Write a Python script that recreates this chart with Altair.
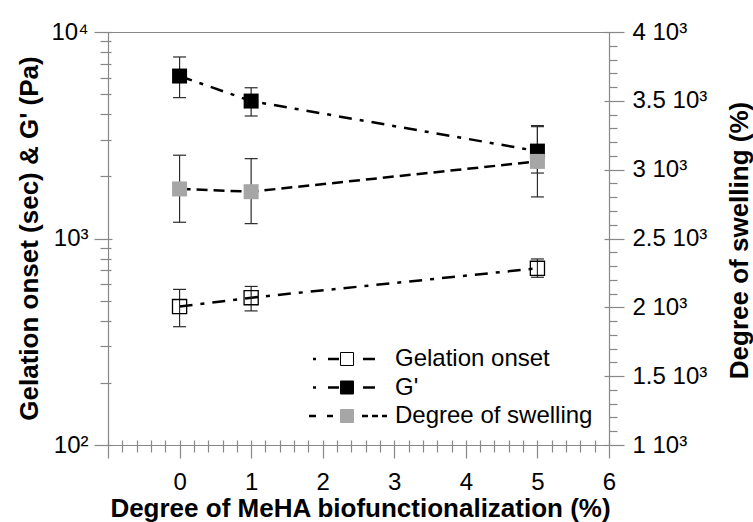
import altair as alt
import pandas as pd

# ---------------- data ----------------
x_vals = [0, 1, 5]
gel_mean = [468, 517, 717]
gel_lo = [374, 446, 649]
gel_hi = [567, 586, 796]
g_mean = [6120, 4630, 2650]
g_lo = [4810, 3920, 2075]
g_hi = [7570, 5370, 3480]
sw_mean = [2860, 2840, 3060]
sw_lo = [2618, 2608, 2802]
sw_hi = [3105, 3080, 3320]

series_names = ["Gelation onset", "G'", "Degree of swelling"]

x_major_ticks = [-1, 0, 1, 2, 3, 4, 5, 6]
x_minor_ticks = [round(-1 + 0.2 * i, 1) for i in range(36) if i % 5 != 0]
left_major_ticks = [100, 1000, 10000]
left_minor_ticks = [200, 300, 400, 500, 600, 700, 800, 900,
                    2000, 3000, 4000, 5000, 6000, 7000, 8000, 9000]
right_major_ticks = [1000, 1500, 2000, 2500, 3000, 3500, 4000]
right_minor_ticks = [v for v in range(1000, 4001, 100) if v % 500 != 0]

FONT = "Liberation Sans"
X_DOMAIN = [-1, 6]
L_DOMAIN = [100, 10000]
R_DOMAIN = [1000, 4000]
ERR_COLOR = "#2a2a2a"
GRAY = "#a6a6a6"

gel_df = pd.DataFrame({"x": x_vals, "m": gel_mean, "lo": gel_lo, "hi": gel_hi})
g_df = pd.DataFrame({"x": x_vals, "m": g_mean, "lo": g_lo, "hi": g_hi})
sw_df = pd.DataFrame({"x": x_vals, "m": sw_mean, "lo": sw_lo, "hi": sw_hi})
leg_df = pd.DataFrame({"s": series_names,
                       "s2": [n + " " for n in series_names],
                       "x": [0, 0, 0], "m": [1000, 1000, 1000]})

# ---------------- axes ----------------
AX_X_DOMAIN = alt.Axis(orient="bottom", domain=True, domainWidth=1.2, ticks=False, labels=False,
                       grid=False, title="Degree of MeHA biofunctionalization (%)",
                       titleFontSize=26, titleFontWeight="bold", titleX=252, titleY=71,
                       titleAlign="center", titleBaseline="alphabetic")
AX_X_MAJOR = alt.Axis(orient="bottom", values=x_major_ticks, offset=-5, tickSize=18, tickWidth=1.2,
                      domain=False, grid=False, title=None, labelFontSize=24, labelPadding=12,
                      labelFlush=False, labelOverlap=False,
                      labelExpr="datum.value < 0 ? '' : datum.label")
AX_X_MINOR = alt.Axis(orient="bottom", values=x_minor_ticks, offset=-5, tickSize=12, tickWidth=1.2,
                      domain=False, labels=False, grid=False, title=None)
AX_X_TOP = alt.Axis(orient="top", domain=True, domainWidth=1.2, ticks=False, labels=False,
                    grid=False, title=None)

AX_L_DOMAIN = alt.Axis(orient="left", domain=True, domainWidth=1.2, ticks=False, labels=False,
                       grid=False, title="Gelation onset (sec) & G' (Pa)",
                       titleFontSize=26, titleFontWeight="bold", titleAngle=270,
                       titleX=-71, titleY=206, titleAlign="center", titleBaseline="alphabetic")
AX_L_MAJOR = alt.Axis(orient="left", values=left_major_ticks, offset=-4, tickSize=18, tickWidth=1.2,
                      domain=False, grid=False, title=None, labelFontSize=24, labelPadding=6,
                      labelFlush=False, labelOverlap=False,
                      labelExpr="datum.value < 500 ? '10\u00b2' : datum.value < 5000 ? '10\u00b3' : '10\u2074'")
AX_L_MINOR = alt.Axis(orient="left", values=left_minor_ticks, offset=-3, tickSize=11, tickWidth=1.2,
                      domain=False, labels=False, grid=False, title=None)

AX_R_DOMAIN = alt.Axis(orient="right", domain=True, domainWidth=1.2, ticks=False, labels=False,
                       grid=False, title="Degree of swelling (%)",
                       titleFontSize=26, titleFontWeight="bold", titleAngle=270,
                       titleX=138, titleY=208, titleAlign="center", titleBaseline="alphabetic")
AX_R_MAJOR = alt.Axis(orient="right", values=right_major_ticks, offset=-5, tickSize=20, tickWidth=1.2,
                      domain=False, grid=False, title=None, labelFontSize=24, labelPadding=8,
                      labelFlush=False, labelOverlap=False,
                      labelExpr="datum.value / 1000 + ' 10\u00b3'")
AX_R_MINOR = alt.Axis(orient="right", values=right_minor_ticks, offset=0, tickSize=8, tickWidth=1.2,
                      domain=False, labels=False, grid=False, title=None)


def xs(axis=None):
    return alt.X("x:Q", scale=alt.Scale(domain=X_DOMAIN, nice=False, zero=False), axis=axis)


def yl(field, axis=None):
    return alt.Y(f"{field}:Q", scale=alt.Scale(type="log", domain=L_DOMAIN, nice=False), axis=axis)


def yr(field, axis=None):
    return alt.Y(f"{field}:Q", scale=alt.Scale(domain=R_DOMAIN, nice=False, zero=False), axis=axis)


DASHDOT = [13, 8, 4, 8]
DASH = [11, 6]

# ---------------- Gelation onset ----------------
gel_line = alt.Chart(gel_df).mark_line(color="black", strokeWidth=2.5, strokeDash=DASHDOT).encode(
    x=xs(AX_X_DOMAIN), y=yl("m", AX_L_DOMAIN))
gel_rule = alt.Chart(gel_df).mark_rule(color=ERR_COLOR, strokeWidth=1.2).encode(
    x=xs(AX_X_MAJOR), y=yl("lo", AX_L_MAJOR), y2=alt.Y2("hi:Q"))
gel_cap_hi = alt.Chart(gel_df).mark_tick(orient="horizontal", size=13, thickness=1.2, color=ERR_COLOR,
                                         opacity=1).encode(x=xs(AX_X_MINOR), y=yl("hi", AX_L_MINOR))
gel_cap_lo = alt.Chart(gel_df).mark_tick(orient="horizontal", size=13, thickness=1.2, color=ERR_COLOR,
                                         opacity=1).encode(x=xs(AX_X_TOP), y=yl("lo"))
gel_pts = alt.Chart(gel_df).mark_point(shape="square", filled=False, size=200, color="black",
                                       strokeWidth=1.3, opacity=1).encode(x=xs(), y=yl("m"))

# ---------------- G' ----------------
g_line = alt.Chart(g_df).mark_line(color="black", strokeWidth=2.5, strokeDash=DASHDOT).encode(
    x=xs(), y=yl("m"))
g_rule = alt.Chart(g_df).mark_rule(color=ERR_COLOR, strokeWidth=1.2).encode(
    x=xs(), y=yl("lo"), y2=alt.Y2("hi:Q"))
g_cap_hi = alt.Chart(g_df).mark_tick(orient="horizontal", size=13, thickness=1.2, color=ERR_COLOR,
                                     opacity=1).encode(x=xs(), y=yl("hi"))
g_cap_lo = alt.Chart(g_df).mark_tick(orient="horizontal", size=13, thickness=1.2, color=ERR_COLOR,
                                     opacity=1).encode(x=xs(), y=yl("lo"))
g_pts = alt.Chart(g_df).mark_square(size=225, color="black", opacity=1).encode(x=xs(), y=yl("m"))

# ---------------- Degree of swelling (right axis) ----------------
sw_line = alt.Chart(sw_df).mark_line(color="black", strokeWidth=2.5, strokeDash=DASH).encode(
    x=xs(), y=yr("m", AX_R_DOMAIN))
sw_rule = alt.Chart(sw_df).mark_rule(color=ERR_COLOR, strokeWidth=1.2).encode(
    x=xs(), y=yr("lo", AX_R_MAJOR), y2=alt.Y2("hi:Q"))
sw_cap_hi = alt.Chart(sw_df).mark_tick(orient="horizontal", size=13, thickness=1.2, color=ERR_COLOR,
                                       opacity=1).encode(x=xs(), y=yr("hi", AX_R_MINOR))
sw_cap_lo = alt.Chart(sw_df).mark_tick(orient="horizontal", size=13, thickness=1.2, color=ERR_COLOR,
                                       opacity=1).encode(x=xs(), y=yr("lo"))
sw_pts = alt.Chart(sw_df).mark_square(size=225, color=GRAY, opacity=1).encode(x=xs(), y=yr("m"))

# ---------------- legend ----------------
DASHDOT_PATH = "M-0.85,0L-0.775,0M-0.475,0L-0.2,0M0.4,0L0.7,0"
DASH_PATH = "M-0.95,0L-0.775,0M-0.5,0L-0.35,0M0.375,0L0.525,0M0.625,0L0.775,0M0.875,0L1,0"

LEG_COMMON = dict(orient="none", direction="vertical", title=None, padding=0, symbolOffset=0,
                  clipHeight=20, rowPadding=4.5, labelFontSize=24, labelFont=FONT,
                  labelColor="black", labelLimit=400, legendY=317)

leg_lines = alt.Chart(leg_df).transform_filter("false").mark_point(
    filled=False, color="black", strokeWidth=2.5, size=6400, opacity=1).encode(
    x=xs(), y=yl("m"),
    shape=alt.Shape("s:N", scale=alt.Scale(domain=series_names,
                                           range=[DASHDOT_PATH, DASHDOT_PATH, DASH_PATH]),
                    legend=alt.Legend(legendX=197.5, symbolSize=6400, symbolStrokeWidth=2.5,
                                      labelOffset=6.5, **LEG_COMMON)))

names2 = [n + " " for n in series_names]
leg2 = dict(legendX=227, symbolSize=169, symbolStrokeWidth=1, symbolType="square",
            labelOpacity=0, labelOffset=6.5, labelExpr="' '", **LEG_COMMON)
leg_squares = alt.Chart(leg_df).transform_filter("false").mark_point(
    shape="square", filled=True, size=169, strokeWidth=1, opacity=1).encode(
    x=xs(), y=yl("m"),
    fill=alt.Fill("s2:N", scale=alt.Scale(domain=names2, range=["transparent", "black", GRAY]),
                  legend=alt.Legend(**leg2)),
    stroke=alt.Stroke("s2:N", scale=alt.Scale(domain=names2, range=["black", "black", GRAY]),
                      legend=alt.Legend(**leg2)))

chart = alt.layer(
    gel_line, g_line, sw_line,
    gel_rule, gel_cap_hi, gel_cap_lo,
    g_rule, g_cap_hi, g_cap_lo,
    sw_rule, sw_cap_hi, sw_cap_lo,
    gel_pts, g_pts, sw_pts,
    leg_lines, leg_squares,
).resolve_scale(
    x="independent", y="independent"
).properties(
    width=501, height=413,
    padding={"left": 108, "top": 32, "right": 144, "bottom": 77},
    autosize=alt.AutoSizeParams(type="none"),
    background="white",
).configure_view(
    stroke=None
).configure_axis(
    grid=False, domainColor="black", tickColor="black", labelColor="black", titleColor="black",
    labelFont=FONT, titleFont=FONT
).configure(font=FONT)

chart.save("out.html", embed_options={"renderer": "svg", "actions": False})
